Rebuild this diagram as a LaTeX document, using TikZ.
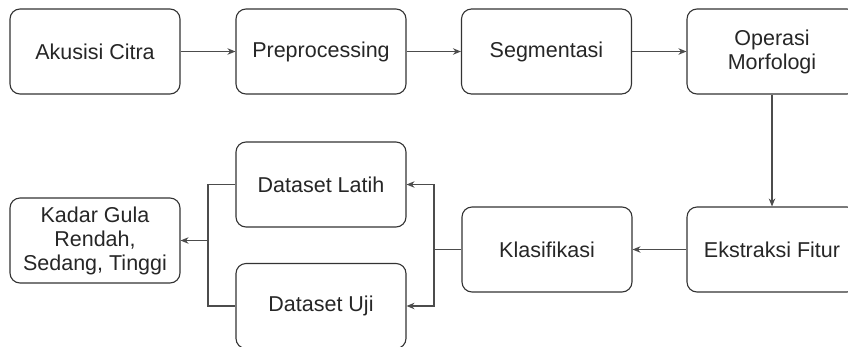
\documentclass[tikz,border=0pt]{standalone}
\usepackage{fontspec}
\setmainfont{Liberation Sans}
\usetikzlibrary{arrows.meta}
\tikzset{
  stepbox/.style={draw=black!80, line width=1.1pt, rounded corners=10pt, minimum width=170pt, minimum height=85pt, align=center, text=black!85, font=\fontsize{21.5}{24}\selectfont, inner sep=2pt},
  link/.style={draw=black!70, line width=1.1pt},
  arr/.style={link, -{Stealth[length=8pt,width=6.5pt]}}
}
\begin{document}
\begin{tikzpicture}[x=1pt,y=-1pt]
\useasboundingbox (0,0) rectangle (848,346);
\clip (0,0) rectangle (848,346);
\node[stepbox] (A) at (95,51.5) {Akusisi Citra};
\node[stepbox] (P) at (321,51.5) {Preprocessing};
\node[stepbox] (S) at (546.5,51.5) {Segmentasi};
\node[stepbox] (O) at (772,51.5) {Operasi\\Morfologi};
\node[stepbox] (E) at (772,249.5) {Ekstraksi Fitur};
\node[stepbox] (K) at (547,249.5) {Klasifikasi};
\node[stepbox] (DL) at (321,184.5) {Dataset Latih};
\node[stepbox] (DU) at (321,306) {Dataset Uji};
\node[stepbox] (G) at (95,240.5) {Kadar Gula\\Rendah,\\Sedang, Tinggi};
\draw[arr] (A) -- (P);
\draw[arr] (P) -- (S);
\draw[arr] (S) -- (O);
\draw[arr] (O) -- (E);
\draw[arr] (E) -- (K);
\coordinate (kj) at (434,249.5);
\draw[link] (K.west) -- (kj);
\draw[arr] (kj) |- (DL.east);
\draw[arr] (kj) |- (DU.east);
\coordinate (gj) at (208,240.5);
\draw[link] (DL.west) -| (gj) |- (DU.west);
\draw[arr] (gj) -- (G.east);
\end{tikzpicture}
\end{document}
